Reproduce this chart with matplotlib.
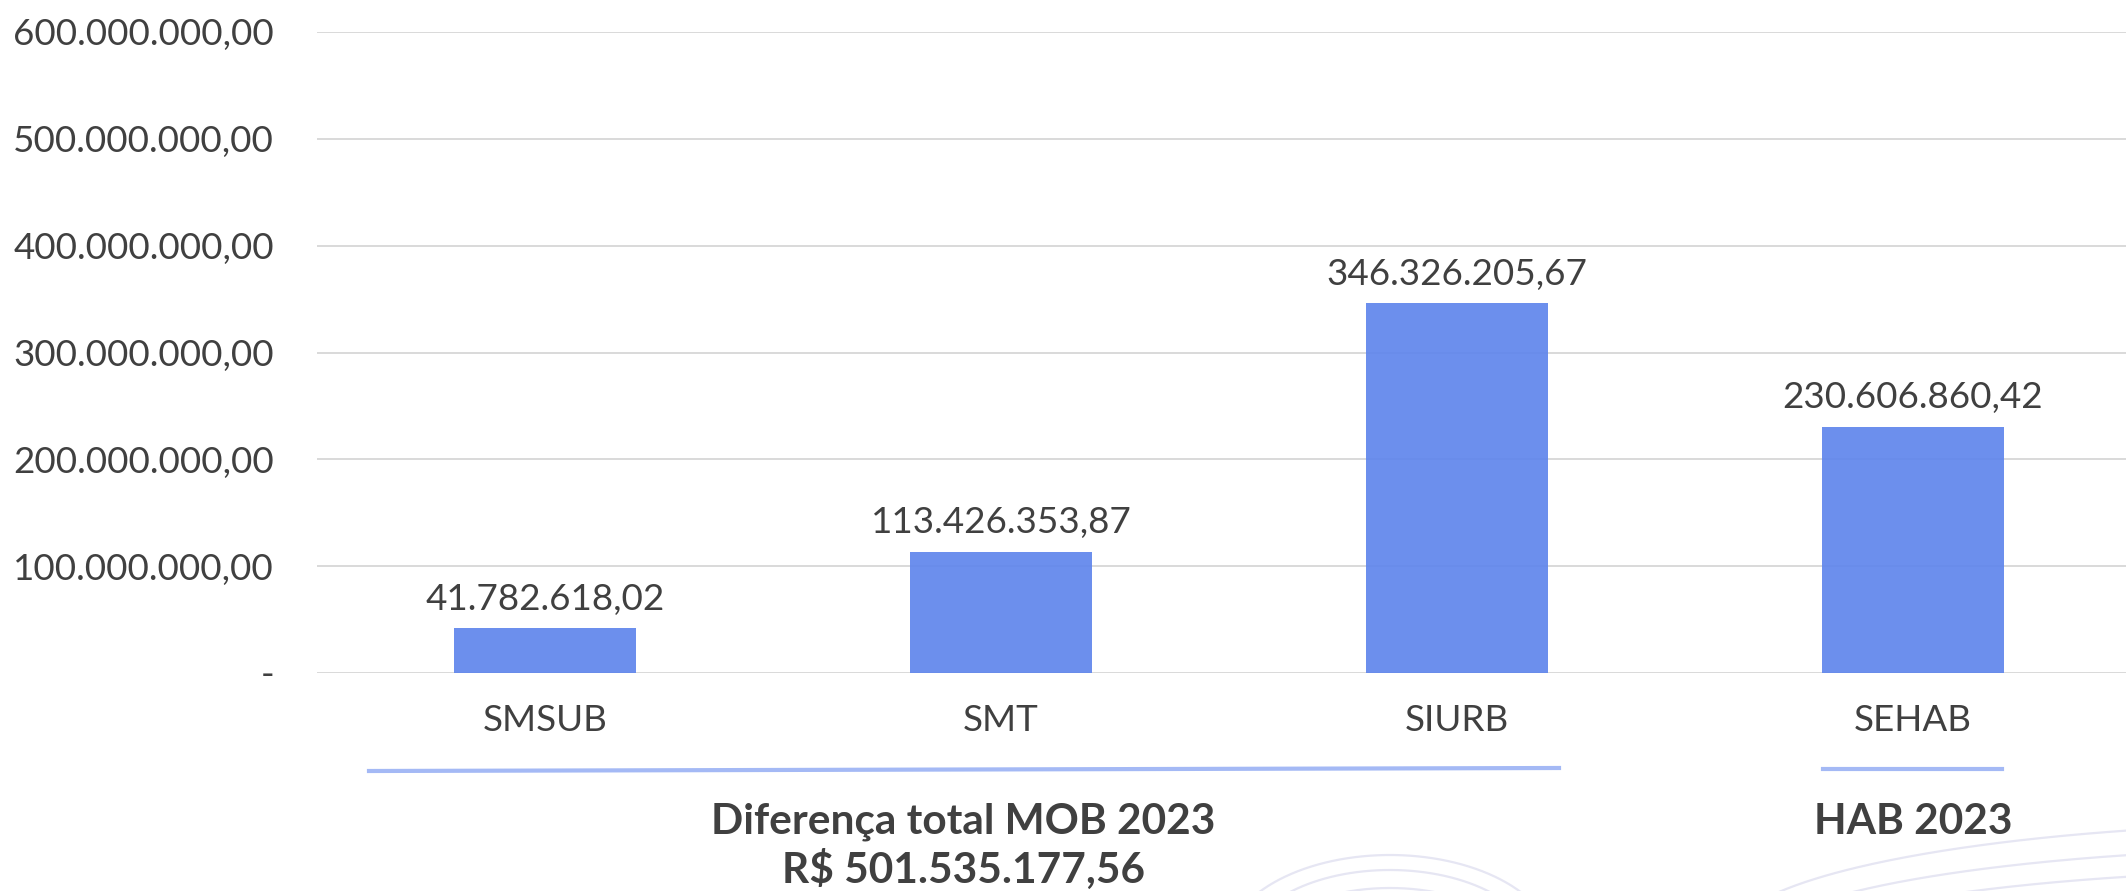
import numpy as np
import matplotlib.pyplot as plt
from matplotlib.lines import Line2D

# data
categories = ['SMSUB', 'SMT', 'SIURB', 'SEHAB']
values = [41782618.02, 113426353.87, 346326205.67, 230606860.42]
yticks = [0, 100e6, 200e6, 300e6, 400e6, 500e6, 600e6]
mob_title = 'Diferença total MOB 2023'
mob_total = 'R$ 501.535.177,56'
hab_title = 'HAB 2023'

txt = '#404040'
bar_color = '#5f86ec'
plt.rcParams['font.family'] = ['Lato', 'DejaVu Sans']


def brl(v):
    s = f"{v:,.2f}"
    return s.replace(',', '#').replace('.', ',').replace('#', '.')


W, H = 2126, 891
fig = plt.figure(figsize=(W / 100, H / 100), dpi=100)

# faint decorative curves in the background (pixel coords)
bg = fig.add_axes([0, 0, 1, 1], zorder=-5)
bg.set_xlim(0, W)
bg.set_ylim(H, 0)
bg.axis('off')
t = np.linspace(0, np.pi, 200)
for a, b in [(165, 95), (145, 80), (125, 62)]:
    bg.plot(1390 + a * np.cos(t), 950 - b * np.sin(t), color='#e6e6f3', lw=1.6)
t = np.linspace(np.pi / 2, np.pi, 200)
for a, b, cy in [(620, 113, 936), (600, 100, 948), (580, 88, 958), (560, 75, 966)]:
    bg.plot(2350 + a * np.cos(t), cy - b * np.sin(t), color='#e6e6f3', lw=1.6)

ax = fig.add_axes([317 / W, 218 / H, (W - 317) / W, 641 / H])
x = np.arange(len(categories))
bars = ax.bar(x, values, width=0.4, color=bar_color, alpha=0.92, zorder=2)
for xi, v in zip(x, values):
    ax.annotate(brl(v), (xi, v), xytext=(0, 9), textcoords='offset points',
                ha='center', va='bottom', fontsize=26.6, color=txt)

ax.set_ylim(0, 600e6)
ax.set_xlim(-0.5, 3.467)
ax.set_yticks(yticks)
ax.set_yticklabels(['-' if v == 0 else brl(v) for v in yticks])
ax.set_xticks(x)
ax.set_xticklabels(categories)
ax.tick_params(axis='y', length=0, pad=31, labelsize=26.5, labelcolor=txt)
ax.tick_params(axis='x', length=0, pad=22, labelsize=26.5, labelcolor=txt)
ax.grid(axis='y', color='#d9d9d9', lw=1.4, zorder=0)
for s in ax.spines.values():
    s.set_visible(False)

# group brackets and titles under the axis
fig.add_artist(Line2D([369 / W, 1559 / W], [1 - 771 / H, 1 - 768 / H],
                      color='#a4b9f5', lw=3))
fig.add_artist(Line2D([1823 / W, 2002 / W], [1 - 769 / H, 1 - 769 / H],
                      color='#a4b9f5', lw=3))
fig.text(963 / W, 1 - 822 / H, mob_title, ha='center', va='center',
         fontsize=30.5, fontweight='bold', color=txt)
fig.text(963 / W, 1 - 869 / H, mob_total, ha='center', va='center',
         fontsize=30.5, fontweight='bold', color=txt)
fig.text(1913 / W, 1 - 822 / H, hab_title, ha='center', va='center',
         fontsize=30.5, fontweight='bold', color=txt)

fig.savefig('out.png', dpi=100, facecolor='white')
